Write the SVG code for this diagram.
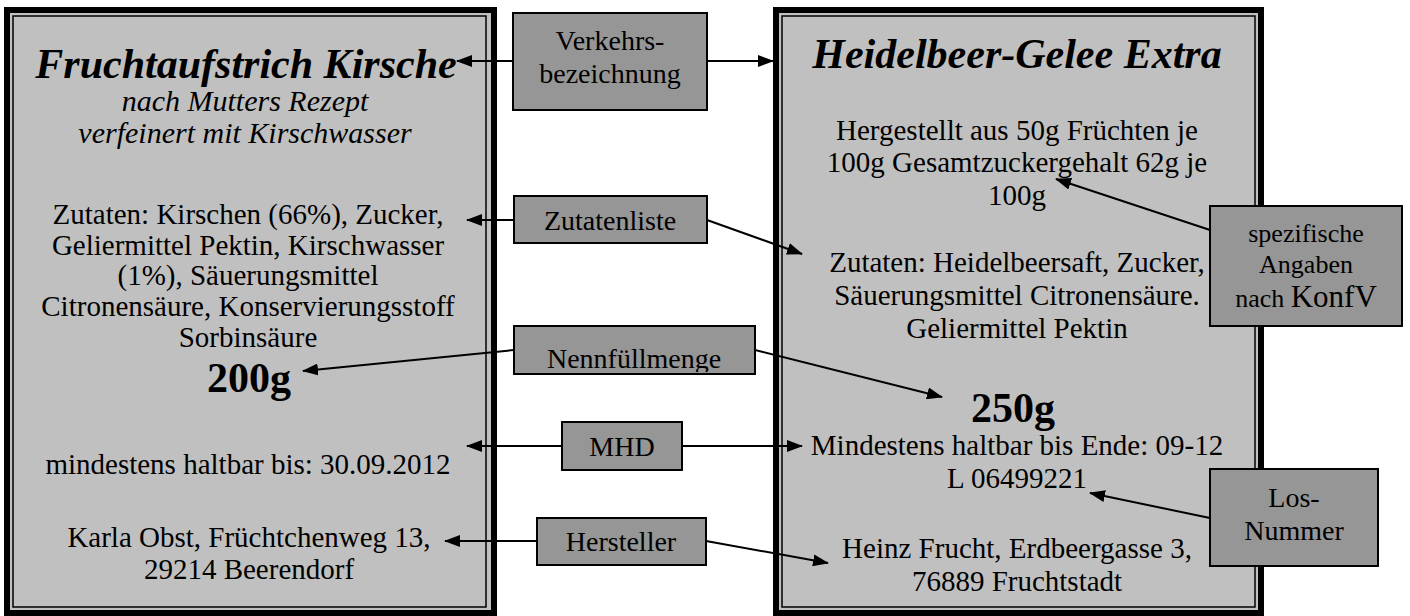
<svg xmlns="http://www.w3.org/2000/svg" width="1410" height="616" viewBox="0 0 1410 616">
<style>
text{font-family:"Liberation Serif","Times New Roman",serif;fill:#000;text-anchor:middle}
.b{font-size:29px}
.it{font-size:30px;font-style:italic}
.ttl{font-size:42px;font-style:italic;font-weight:bold}
.big{font-size:42px;font-weight:bold}
.lbl{font-size:28px}
.sm{font-size:26px}
.fill{fill:#c0c0c0}
.outer{fill:none;stroke:#000;stroke-width:6}
.inner{fill:none;stroke:#000;stroke-width:1.5}
.box{fill:#969696;stroke:#000;stroke-width:2}
.con{fill:none;stroke:#000;stroke-width:2;marker-end:url(#ah)}
</style>
<defs>
<marker id="ah" markerWidth="16" markerHeight="12" refX="15" refY="6" orient="auto" markerUnits="userSpaceOnUse"><path d="M0,0 L16,6 L0,12 z" fill="#000"/></marker>
<clipPath id="nclip"><rect x="515" y="327" width="239" height="45"/></clipPath>
</defs>
<rect width="1410" height="616" fill="#fff"/>
<g id="panel-left">
<rect class="fill" x="4" y="7" width="493" height="609"/>
<rect class="outer" x="7" y="10" width="487" height="603"/>
<rect class="inner" x="13" y="16" width="473" height="591"/>
<text class="ttl" x="246" y="78">Fruchtaufstrich Kirsche</text>
<text class="it" x="245" y="111">nach Mutters Rezept</text>
<text class="it" x="245" y="143">verfeinert mit Kirschwasser</text>
<text class="b" x="248" y="224">Zutaten: Kirschen (66%), Zucker,</text>
<text class="b" x="248" y="255">Geliermittel Pektin, Kirschwasser</text>
<text class="b" x="248" y="285">(1%), Säuerungsmittel</text>
<text class="b" x="248" y="316">Citronensäure, Konservierungsstoff</text>
<text class="b" x="248" y="347">Sorbinsäure</text>
<text class="big" x="249" y="392">200g</text>
<text class="b" x="248" y="474">mindestens haltbar bis: 30.09.2012</text>
<text class="b" x="249" y="547">Karla Obst, Früchtchenweg 13,</text>
<text class="b" x="249" y="579">29214 Beerendorf</text>
</g>
<g id="panel-right">
<rect class="fill" x="773" y="7" width="491" height="609"/>
<rect class="outer" x="776" y="10" width="485" height="603"/>
<rect class="inner" x="782" y="16" width="473" height="591"/>
<text class="ttl" x="1017" y="68">Heidelbeer-Gelee Extra</text>
<text class="b" x="1017" y="140">Hergestellt aus 50g Früchten je</text>
<text class="b" x="1017" y="172">100g Gesamtzuckergehalt 62g je</text>
<text class="b" x="1017" y="205">100g</text>
<text class="b" x="1017" y="272">Zutaten: Heidelbeersaft, Zucker,</text>
<text class="b" x="1017" y="305">Säuerungsmittel Citronensäure.</text>
<text class="b" x="1017" y="338">Geliermittel Pektin</text>
<text class="big" x="1013" y="422">250g</text>
<text class="b" x="1017" y="455">Mindestens haltbar bis Ende: 09-12</text>
<text class="b" x="1017" y="488">L 06499221</text>
<text class="b" x="1017" y="558">Heinz Frucht, Erdbeergasse 3,</text>
<text class="b" x="1017" y="591">76889 Fruchtstadt</text>
</g>
<g id="connectors">
<path class="con" d="M513,61 L457,61"/>
<path class="con" d="M707,61 L773,61"/>
<path class="con" d="M514,220 L467,220"/>
<path class="con" d="M707,220 L802,254"/>
<path class="con" d="M514,350 L303,371"/>
<path class="con" d="M755,350 L942,397"/>
<path class="con" d="M562,446 L467,446"/>
<path class="con" d="M682,446 L802,446"/>
<path class="con" d="M537,541 L445,541"/>
<path class="con" d="M706,541 L828,563"/>
<path class="con" d="M1210,230 L1056,179"/>
<path class="con" d="M1210,518 L1090,493"/>
</g>
<g id="label-verkehrsbezeichnung">
<rect class="box" x="513" y="13" width="194" height="97"/>
<text class="lbl" x="610" y="50">Verkehrs-</text>
<text class="lbl" x="610" y="83">bezeichnung</text>
</g>
<g id="label-zutatenliste">
<rect class="box" x="514" y="196" width="193" height="47"/>
<text class="lbl" x="610" y="230">Zutatenliste</text>
</g>
<g id="label-nennfuellmenge">
<rect class="box" x="514" y="326" width="241" height="48"/>
<text class="lbl" x="634" y="368" clip-path="url(#nclip)">Nennfüllmenge</text>
</g>
<g id="label-mhd">
<rect class="box" x="562" y="422" width="120" height="48"/>
<text class="lbl" x="622" y="456">MHD</text>
</g>
<g id="label-hersteller">
<rect class="box" x="537" y="518" width="169" height="47"/>
<text class="lbl" x="621" y="551">Hersteller</text>
</g>
<g id="label-konfv">
<rect class="box" x="1210" y="206" width="192" height="120"/>
<text class="sm" x="1306" y="242">spezifische</text>
<text class="sm" x="1306" y="273">Angaben</text>
<text class="sm" x="1306" y="307">nach <tspan style="font-size:31px">KonfV</tspan></text>
</g>
<g id="label-los">
<rect class="box" x="1210" y="469" width="168" height="97"/>
<text class="lbl" x="1294" y="507">Los-</text>
<text class="lbl" x="1294" y="540">Nummer</text>
</g>
</svg>
